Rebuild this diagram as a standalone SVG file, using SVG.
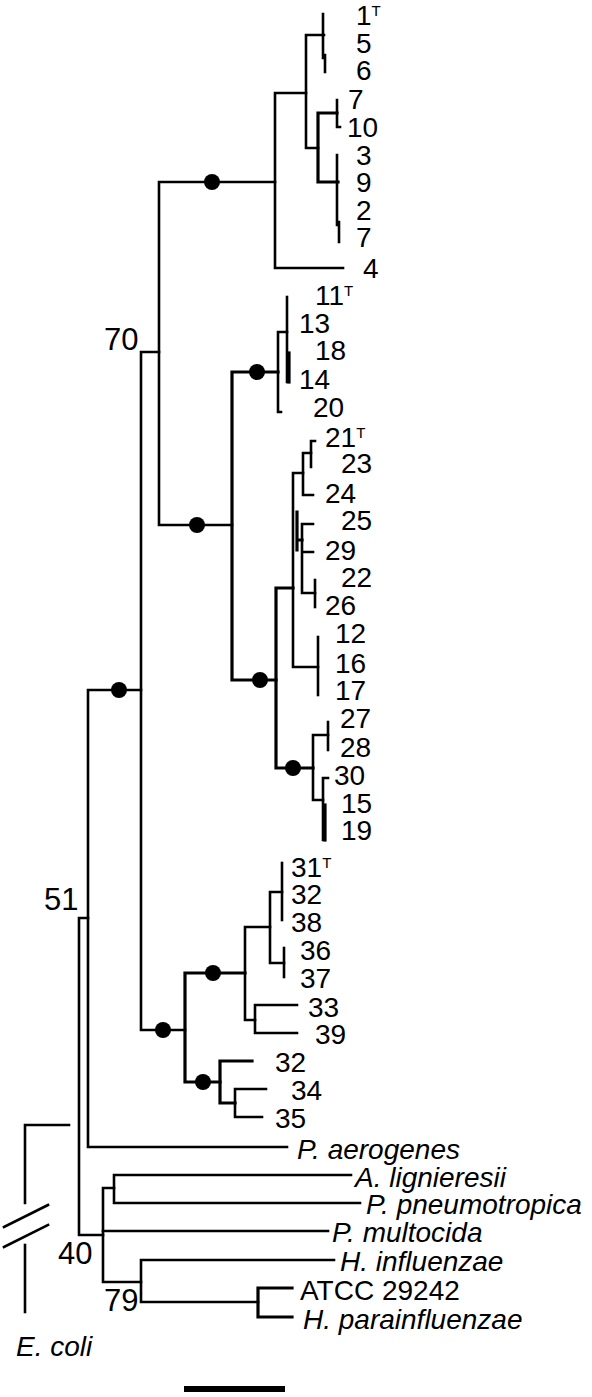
<svg xmlns="http://www.w3.org/2000/svg" width="592" height="1397" viewBox="0 0 592 1397">
<style>
.b{fill:none;stroke:#000;stroke-width:2.6;stroke-linejoin:miter;stroke-linecap:square}
.bt{fill:none;stroke:#000;stroke-width:3.2;stroke-linecap:square}
.d{fill:#000}
text{font-family:"Liberation Sans",Arial,sans-serif;fill:#000}
.n{font-size:28px}
.s{font-size:28px;font-style:italic}
.bs{font-size:31px}
.sup{font-size:15px}
</style>
<rect width="592" height="1397" fill="#fff"/>
<g id="connectors">
<!-- cluster A -->
<path class="b" d="M323 14 V58 M325 55 V72"/>
<path class="b" d="M324 35 H306 V148 H318"/>
<path class="bt" d="M337 113 H318 V182 H338"/>
<path class="b" d="M337 100 V127 H340"/>
<path class="b" d="M337 155 V225 M339 222 V242"/>
<path class="b" d="M306 93 H275 V268 H343"/>
<!-- backbone -->
<path class="b" d="M275 182 H159 V525 H232"/>
<path class="b" d="M159 352 H141 V1030 H185"/>
<path class="b" d="M141 690 H88 V1147 H287"/>
<path class="b" d="M88 918 H79 V1235 H103"/>
<!-- cluster B -->
<path class="bt" d="M278 372 H232 V680 H276"/>
<path class="b" d="M287 297 V382"/>
<path class="bt" d="M289 353 V382"/>
<path class="b" d="M287 332 H278 V412 H281"/>
<!-- cluster C -->
<path class="bt" d="M293 588 H276 V768 H313"/>
<path class="b" d="M303 473 H293 V667 H318"/>
<path class="bt" d="M297 512 V550 M297 540 H302"/>
<path class="b" d="M311 453 H303 V495 H313"/>
<path class="b" d="M315 441 H311 V467"/>
<path class="b" d="M313 524 H302 V593 H315 M302 552 H313"/>
<path class="b" d="M315 580 V607"/>
<path class="b" d="M318 637 V695"/>
<!-- cluster D -->
<path class="b" d="M328 735 H313 V800 H323"/>
<path class="b" d="M328 722 V750"/>
<path class="b" d="M328 778 H323 V840"/>
<path class="bt" d="M325 805 V840"/>
<!-- cluster E -->
<path class="bt" d="M245 973 H185 V1082 H220"/>
<path class="b" d="M270 927 H245 V1020 H255"/>
<path class="b" d="M282 892 H270 V963 H284"/>
<path class="b" d="M282 863 V920"/>
<path class="b" d="M284 948 V977"/>
<path class="b" d="M297 1005 H255 V1033 H297"/>
<path class="bt" d="M252 1061 H220 V1103 H235"/>
<path class="b" d="M266 1089 H235 V1117 H262"/>
<!-- outgroups -->
<path class="b" d="M114 1188 H103 V1282 H141"/>
<path class="b" d="M103 1231 H328"/>
<path class="b" d="M351 1175 H114 V1203 H360"/>
<path class="b" d="M334 1260 H141 V1302 H258"/>
<path class="bt" d="M292 1288 H258 V1317 H292"/>
<!-- E. coli broken root -->
<path class="b" d="M69 1125 H25 V1203"/>
<path class="b" d="M25 1245 V1312"/>
<path class="b" d="M4 1227 L48 1205 M4 1247 L48 1225"/>
</g>
<g id="support-dots">
<circle class="d" cx="212" cy="182" r="8"/>
<circle class="d" cx="197" cy="525" r="8"/>
<circle class="d" cx="257" cy="372" r="8"/>
<circle class="d" cx="260" cy="680" r="8"/>
<circle class="d" cx="293" cy="768" r="8"/>
<circle class="d" cx="119" cy="690" r="8"/>
<circle class="d" cx="163" cy="1030" r="8"/>
<circle class="d" cx="213" cy="973" r="8"/>
<circle class="d" cx="203" cy="1082" r="8"/>
</g>
<g id="bootstrap">
<text class="bs" x="104" y="350">70</text>
<text class="bs" x="44" y="910">51</text>
<text class="bs" x="58" y="1264">40</text>
<text class="bs" x="104" y="1311">79</text>
</g>
<g id="leaves">
<g id="n1"><text class="n" x="356" y="25">1<tspan class="sup" dy="-9">T</tspan></text></g>
<g id="n5"><text class="n" x="356" y="53">5</text></g>
<g id="n6"><text class="n" x="356" y="80">6</text></g>
<g id="n7a"><text class="n" x="348" y="109">7</text></g>
<g id="n10"><text class="n" x="347" y="137">10</text></g>
<g id="n3"><text class="n" x="356" y="165">3</text></g>
<g id="n9"><text class="n" x="356" y="192">9</text></g>
<g id="n2"><text class="n" x="356" y="220">2</text></g>
<g id="n7b"><text class="n" x="356" y="247">7</text></g>
<g id="n4"><text class="n" x="363" y="278">4</text></g>
<g id="n11"><text class="n" x="315" y="305">11<tspan class="sup" dy="-9">T</tspan></text></g>
<g id="n13"><text class="n" x="299" y="333">13</text></g>
<g id="n18"><text class="n" x="315" y="360">18</text></g>
<g id="n14"><text class="n" x="299" y="389">14</text></g>
<g id="n20"><text class="n" x="313" y="417">20</text></g>
<g id="n21"><text class="n" x="325" y="447">21<tspan class="sup" dy="-9">T</tspan></text></g>
<g id="n23"><text class="n" x="341" y="473">23</text></g>
<g id="n24"><text class="n" x="325" y="503">24</text></g>
<g id="n25"><text class="n" x="341" y="530">25</text></g>
<g id="n29"><text class="n" x="325" y="560">29</text></g>
<g id="n22"><text class="n" x="341" y="587">22</text></g>
<g id="n26"><text class="n" x="325" y="615">26</text></g>
<g id="n12"><text class="n" x="335" y="643">12</text></g>
<g id="n16"><text class="n" x="335" y="673">16</text></g>
<g id="n17"><text class="n" x="335" y="700">17</text></g>
<g id="n27"><text class="n" x="340" y="728">27</text></g>
<g id="n28"><text class="n" x="340" y="757">28</text></g>
<g id="n30"><text class="n" x="334" y="785">30</text></g>
<g id="n15"><text class="n" x="341" y="813">15</text></g>
<g id="n19"><text class="n" x="341" y="840">19</text></g>
<g id="n31"><text class="n" x="291" y="877">31<tspan class="sup" dy="-9">T</tspan></text></g>
<g id="n32a"><text class="n" x="291" y="904">32</text></g>
<g id="n38"><text class="n" x="291" y="932">38</text></g>
<g id="n36"><text class="n" x="300" y="960">36</text></g>
<g id="n37"><text class="n" x="300" y="988">37</text></g>
<g id="n33"><text class="n" x="308" y="1017">33</text></g>
<g id="n39"><text class="n" x="315" y="1044">39</text></g>
<g id="n32b"><text class="n" x="275" y="1072">32</text></g>
<g id="n34"><text class="n" x="291" y="1100">34</text></g>
<g id="n35"><text class="n" x="275" y="1128">35</text></g>
<g id="paero"><text class="s" x="297" y="1159">P. aerogenes</text></g>
<g id="alig"><text class="s" x="355" y="1187">A. lignieresii</text></g>
<g id="ppneu"><text class="s" x="366" y="1214">P. pneumotropica</text></g>
<g id="pmult"><text class="s" x="332" y="1242">P. multocida</text></g>
<g id="hinf"><text class="s" x="340" y="1271">H. influenzae</text></g>
<g id="atcc"><text class="n" x="300" y="1300">ATCC 29242</text></g>
<g id="hpara"><text class="s" x="303" y="1329">H. parainfluenzae</text></g>
<g id="ecoli"><text class="s" x="16" y="1356">E. coli</text></g>
</g>
<g id="scale-bar"><rect x="184" y="1386" width="101" height="6" fill="#000"/></g>
</svg>
